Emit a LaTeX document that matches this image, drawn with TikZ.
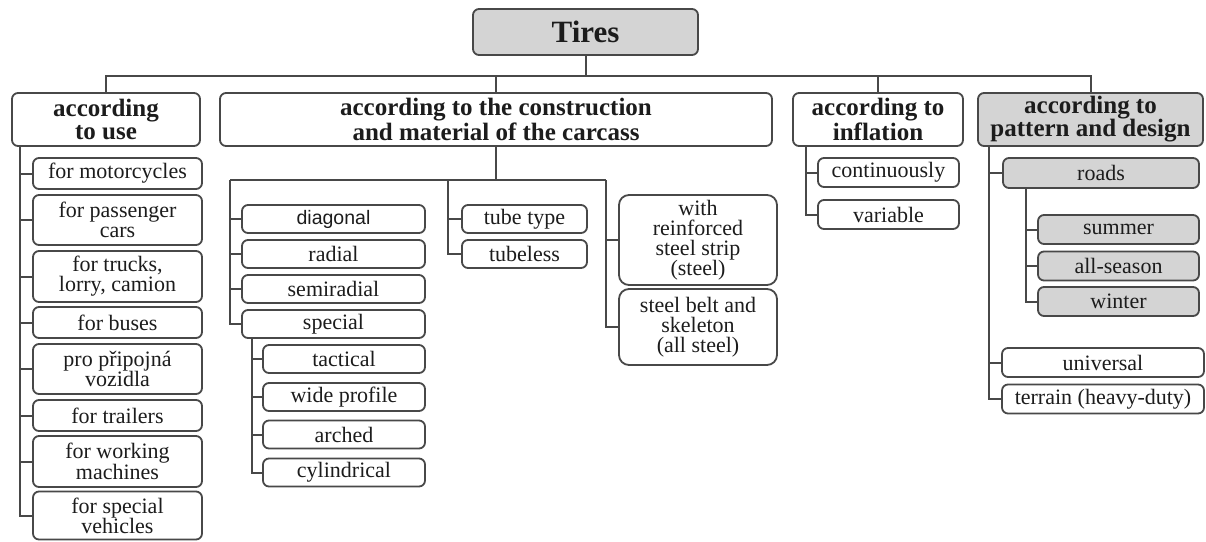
\documentclass[tikz,border=0pt]{standalone}
\usepackage{fontspec}
\setmainfont{Liberation Serif}
\newfontfamily\sansfont{Liberation Sans}
\usetikzlibrary{calc}
\definecolor{linegray}{RGB}{72,72,72}
\definecolor{boxgray}{RGB}{212,212,212}
\definecolor{inkblack}{RGB}{28,28,28}
\tikzset{
  box/.style={draw=linegray, line width=1.8pt, rounded corners=6pt, fill=white,
    align=center, inner sep=0pt, text=inkblack},
  head/.style={box, font=\bfseries\fontsize{25}{23}\selectfont, minimum height=53pt},
  leaf/.style={box, font=\fontsize{22}{20}\selectfont},
  shaded/.style={fill=boxgray},
  link/.style={draw=linegray, line width=2pt},
}

\begin{document}
\begin{tikzpicture}[x=1pt, y=-1pt]
  \useasboundingbox (0,0) rectangle (1206,541);

  % root and first level
  \node[box, shaded, font=\bfseries\fontsize{31}{31}\selectfont, minimum width=225pt, minimum height=46pt] (tires) at (585.5,32) {Tires};
  \node[head, minimum width=188pt] (use) at (106,119.5) {according\\to use};
  \node[head, minimum width=552pt] (cons) at (496,119.5) {according to the construction\\and material of the carcass};
  \node[head, minimum width=170pt] (infl) at (878,119.5) {according to\\inflation};
  \node[head, shaded, minimum width=225pt] (patt) at (1090.5,119.5) {according to\\pattern and design};

  \coordinate (bus) at (0,76);
  \draw[link] (use.north) -- (use.north |- bus) -- (patt.north |- bus) -- (patt.north);
  \draw[link] (tires.south) -- (tires.south |- bus);
  \draw[link] (cons.north) -- (cons.north |- bus);
  \draw[link] (infl.north) -- (infl.north |- bus);

  % according to use
  \begin{scope}[every node/.style={leaf, minimum width=169pt}]
    \node[minimum height=31pt] (u1) at (117.5,173.5) {for motorcycles};
    \node[minimum height=50pt] (u2) at (117.5,220) {for passenger\\cars};
    \node[minimum height=51pt] (u3) at (117.5,276.5) {for trucks,\\lorry, camion};
    \node[minimum height=31pt] (u4) at (117.5,322.5) {for buses};
    \node[minimum height=50pt] (u5) at (117.5,369) {pro připojná\\vozidla};
    \node[minimum height=31pt] (u6) at (117.5,415.5) {for trailers};
    \node[minimum height=51pt] (u7) at (117.5,461.5) {for working\\machines};
    \node[minimum height=48pt] (u8) at (117.5,515.5) {for special\\vehicles};
  \end{scope}
  \coordinate (utrunk) at (20,146);
  \draw[link] (utrunk) |- (u8.west);
  \foreach \n in {u1,u2,u3,u4,u5,u6,u7}
    \draw[link] (\n.west) -- (\n.west -| utrunk);

  % construction and material
  \begin{scope}[every node/.style={leaf, minimum width=183pt, minimum height=28pt}]
    \node[font=\sansfont\fontsize{19.5}{20}\selectfont] (diag) at (333.5,219) {diagonal};
    \node (radial) at (333.5,254) {radial};
    \node (semi) at (333.5,289) {semiradial};
    \node (spec) at (333.5,324) {special};
  \end{scope}
  \begin{scope}[every node/.style={leaf, minimum width=162pt, minimum height=28pt}]
    \node (tact) at (344,359) {tactical};
    \node (wide) at (344,397) {wide profile};
    \node (arch) at (344,434.5) {arched};
    \node (cyl) at (344,472.5) {cylindrical};
  \end{scope}
  \node[leaf, minimum width=125pt, minimum height=28pt] (tube) at (524.5,219) {tube type};
  \node[leaf, minimum width=125pt, minimum height=28pt] (tubeless) at (524.5,254) {tubeless};
  \node[leaf, minimum width=158pt, minimum height=90pt, rounded corners=10pt] (reinf) at (698,240) {with\\reinforced\\steel strip\\(steel)};
  \node[leaf, minimum width=158pt, minimum height=76pt, rounded corners=10pt] (belt) at (698,327) {steel belt and\\skeleton\\(all steel)};

  \coordinate (cl) at (230,180);
  \coordinate (cm) at (448,180);
  \coordinate (cr) at (606,180);
  \draw[link] (cons.south) -- (cons.south |- cl);
  \draw[link] (cl) -- (cr);
  \draw[link] (cl) |- (spec.west);
  \foreach \n in {diag,radial,semi}
    \draw[link] (\n.west) -- (\n.west -| cl);
  \coordinate (strunk) at (252,338);
  \draw[link] (strunk) |- (cyl.west);
  \foreach \n in {tact,wide,arch}
    \draw[link] (\n.west) -- (\n.west -| strunk);
  \draw[link] (cm) |- (tubeless.west);
  \draw[link] (tube.west) -- (tube.west -| cm);
  \draw[link] (cr) |- (belt.west);
  \draw[link] (reinf.west) -- (reinf.west -| cr);

  % inflation
  \node[leaf, minimum width=141pt, minimum height=29pt] (cont) at (888.5,172.5) {continuously};
  \node[leaf, minimum width=141pt, minimum height=29pt] (var) at (888.5,214.5) {variable};
  \coordinate (itrunk) at (806,146);
  \draw[link] (itrunk) |- (var.west);
  \draw[link] (cont.west) -- (cont.west -| itrunk);

  % pattern and design
  \node[leaf, shaded, minimum width=196pt, minimum height=30pt] (roads) at (1101,173) {roads};
  \begin{scope}[every node/.style={leaf, shaded, minimum width=161pt, minimum height=29pt}]
    \node (summer) at (1118.5,229.5) {summer};
    \node (allseas) at (1118.5,266) {all-season};
    \node (winter) at (1118.5,301.5) {winter};
  \end{scope}
  \node[leaf, minimum width=202pt, minimum height=29pt] (univ) at (1103,362.5) {universal};
  \node[leaf, minimum width=202pt, minimum height=29pt] (terrain) at (1103,399) {terrain (heavy-duty)};

  \coordinate (ptrunk) at (989,146);
  \draw[link] (ptrunk) |- (terrain.west);
  \foreach \n in {roads,univ}
    \draw[link] (\n.west) -- (\n.west -| ptrunk);
  \coordinate (rtrunk) at (1026,188);
  \draw[link] (rtrunk) |- (winter.west);
  \foreach \n in {summer,allseas}
    \draw[link] (\n.west) -- (\n.west -| rtrunk);
\end{tikzpicture}
\end{document}
